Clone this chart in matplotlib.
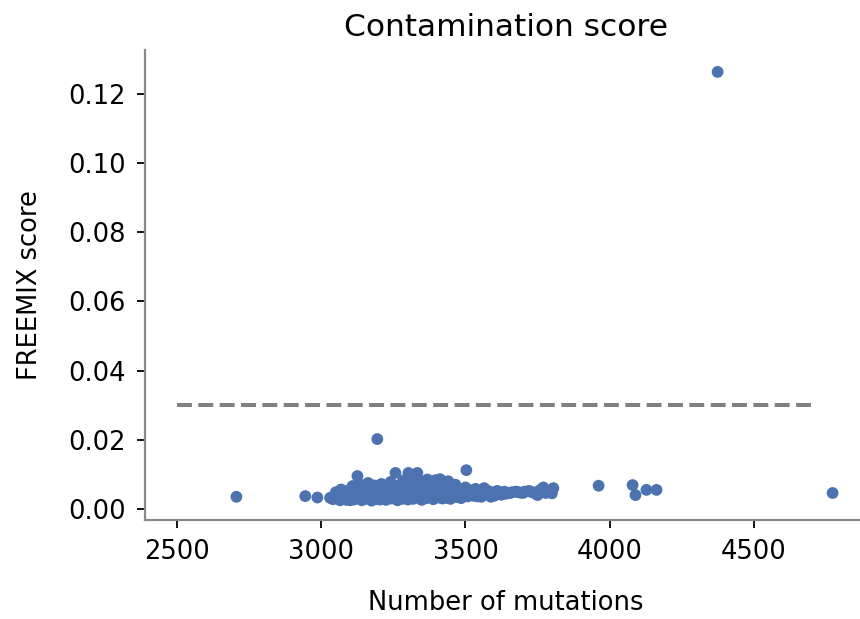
import numpy as np
import matplotlib.pyplot as plt

# region Data
# isolated samples
outlier_mutations = [2705, 2944, 2986, 3194, 3962, 4080, 4090, 4128, 4163, 4375, 4774]
outlier_freemix = [0.0035, 0.0037, 0.0033, 0.0202, 0.0067, 0.0069, 0.0040, 0.0055, 0.0055, 0.1264, 0.0046]

# dense cluster of samples
cluster_mutations = [
    3030, 3040, 3045, 3055, 3060, 3065, 3070, 3075, 3080, 3085, 3090, 3095, 3100, 3100,
    3105, 3110, 3112, 3118, 3120, 3125, 3128, 3132, 3136, 3140, 3142, 3148, 3150, 3155,
    3158, 3162, 3165, 3170, 3174, 3178, 3182, 3185, 3190, 3196, 3200,
    3204, 3208, 3212, 3215, 3220, 3224, 3228, 3232, 3236, 3240, 3244, 3248, 3252, 3257,
    3260, 3264, 3268, 3272, 3276, 3280, 3284, 3288, 3292, 3296, 3300,
    3302, 3306, 3310, 3314, 3318, 3322, 3326, 3330, 3333, 3336, 3340, 3344, 3348, 3352,
    3356, 3360, 3364, 3368, 3372, 3376, 3380, 3384, 3388, 3392, 3396, 3400,
    3404, 3408, 3412, 3416, 3420, 3424, 3428, 3432, 3436, 3440, 3444, 3448, 3452, 3456,
    3460, 3465, 3470, 3475, 3480, 3485, 3490, 3495, 3500, 3503,
    3508, 3515, 3520, 3528, 3535, 3540, 3548, 3555, 3562, 3570, 3578, 3585, 3592, 3600,
    3610, 3618, 3625, 3635, 3645,
    3660, 3675, 3690, 3705, 3720, 3735, 3750, 3760, 3770, 3778, 3790, 3800, 3805,
    # filler in the body of the cluster
    3050, 3070, 3092, 3115, 3135, 3152, 3168, 3188, 3206, 3226, 3246, 3266, 3286, 3308,
    3328, 3346, 3366, 3386, 3406, 3426, 3446, 3468, 3488, 3510, 3530, 3550, 3575, 3598,
    3620, 3640, 3655, 3680, 3700, 3725, 3745, 3785,
    3058, 3078, 3098, 3122, 3144, 3160, 3180, 3198, 3218, 3238, 3256, 3274, 3294, 3316,
    3336, 3356, 3376, 3396, 3416, 3436, 3456, 3478, 3498, 3518, 3542, 3565, 3588,
    3068, 3088, 3108, 3130, 3156, 3176, 3194, 3214, 3234, 3254, 3278, 3298, 3320,
    3342, 3362, 3382, 3402, 3422, 3442, 3462, 3482,
]
cluster_freemix = [
    0.0032, 0.0028, 0.0036, 0.0030, 0.0040, 0.0025, 0.0034, 0.0045, 0.0029, 0.0038, 0.0052, 0.0031, 0.0044, 0.0025,
    0.0058, 0.0035, 0.0027, 0.0048, 0.0062, 0.0095, 0.0031, 0.0041, 0.0070, 0.0025, 0.0053, 0.0036, 0.0064, 0.0029,
    0.0046, 0.0075, 0.0033, 0.0057, 0.0024, 0.0040, 0.0068, 0.0030, 0.0050, 0.0037, 0.0060,
    0.0027, 0.0072, 0.0044, 0.0033, 0.0055, 0.0026, 0.0065, 0.0039, 0.0048, 0.0078, 0.0030, 0.0058, 0.0035, 0.0104,
    0.0043, 0.0025, 0.0068, 0.0038, 0.0052, 0.0029, 0.0082, 0.0046, 0.0034, 0.0061, 0.0027,
    0.0104, 0.0050, 0.0037, 0.0074, 0.0029, 0.0056, 0.0042, 0.0088, 0.0104, 0.0033, 0.0064, 0.0047, 0.0026, 0.0079,
    0.0039, 0.0055, 0.0031, 0.0085, 0.0045, 0.0060, 0.0035, 0.0070, 0.0028, 0.0051, 0.0083, 0.0040,
    0.0063, 0.0033, 0.0086, 0.0048, 0.0030, 0.0072, 0.0041, 0.0057, 0.0035, 0.0080, 0.0046, 0.0029, 0.0064, 0.0038,
    0.0052, 0.0070, 0.0034, 0.0045, 0.0058, 0.0031, 0.0049, 0.0040, 0.0062, 0.0112,
    0.0036, 0.0054, 0.0045, 0.0038, 0.0058, 0.0042, 0.0050, 0.0035, 0.0047, 0.0055, 0.0040, 0.0050, 0.0044, 0.0038,
    0.0052, 0.0046, 0.0041, 0.0050, 0.0045,
    0.0048, 0.0050, 0.0047, 0.0050, 0.0052, 0.0047, 0.0040, 0.0055, 0.0062, 0.0046, 0.0052, 0.0045, 0.0060,
    0.0048, 0.0055, 0.0042, 0.0038, 0.0045, 0.0050, 0.0042, 0.0055, 0.0048, 0.0052, 0.0045, 0.0050, 0.0042, 0.0048,
    0.0055, 0.0045, 0.0050, 0.0042, 0.0055, 0.0046, 0.0052, 0.0044, 0.0050, 0.0047, 0.0043, 0.0049, 0.0045, 0.0043,
    0.0048, 0.0044, 0.0046, 0.0049, 0.0046, 0.0050, 0.0048, 0.0050,
    0.0030, 0.0042, 0.0036, 0.0030, 0.0043, 0.0032, 0.0045, 0.0029, 0.0062, 0.0035, 0.0044, 0.0032, 0.0068, 0.0036,
    0.0071, 0.0030, 0.0066, 0.0032, 0.0068, 0.0032, 0.0070, 0.0036, 0.0050, 0.0040, 0.0036, 0.0060, 0.0035,
    0.0056, 0.0026, 0.0066, 0.0050, 0.0052, 0.0062, 0.0028, 0.0062, 0.0052, 0.0066, 0.0060, 0.0072, 0.0062,
    0.0052, 0.0066, 0.0050, 0.0054, 0.0052, 0.0054, 0.0044, 0.0036,
]

THRESHOLD = 0.03
THRESHOLD_X = [2500, 4700]
Y_TICKS = [0.00, 0.02, 0.04, 0.06, 0.08, 0.10, 0.12]
X_TICKS = [2500, 3000, 3500, 4000, 4500]
# endregion

mutations = np.array(cluster_mutations + outlier_mutations)
freemix = np.array(cluster_freemix + outlier_freemix)

fig = plt.figure(figsize=(8.6, 6.19), dpi=100)
ax = fig.add_axes([0.169, 0.16, 0.838, 0.759])

ax.scatter(mutations, freemix, s=72, color='#4c72b0', edgecolors='none', zorder=2)
ax.hlines(THRESHOLD, THRESHOLD_X[0], THRESHOLD_X[1], colors='gray',
          linestyles='dashed', linewidth=2.9, zorder=1)

ax.set_xlim(2389, 4890)
ax.set_ylim(-0.0032, 0.1327)
ax.set_xticks(X_TICKS)
ax.set_yticks(Y_TICKS)
ax.set_yticklabels([f'{t:.2f}' for t in Y_TICKS])

for side in ('top', 'right'):
    ax.spines[side].set_visible(False)
for side in ('left', 'bottom'):
    ax.spines[side].set_color('#888888')
    ax.spines[side].set_linewidth(1.6)

ax.tick_params(axis='both', labelsize=18.5, length=6, width=1.3, pad=8)
ax.set_xlabel('Number of mutations', fontsize=18.5, labelpad=18)
ax.set_ylabel('FREEMIX score', fontsize=18.5, labelpad=18)
ax.set_title('Contamination score', fontsize=22.5, pad=10)

fig.savefig('out.png', dpi=100)
